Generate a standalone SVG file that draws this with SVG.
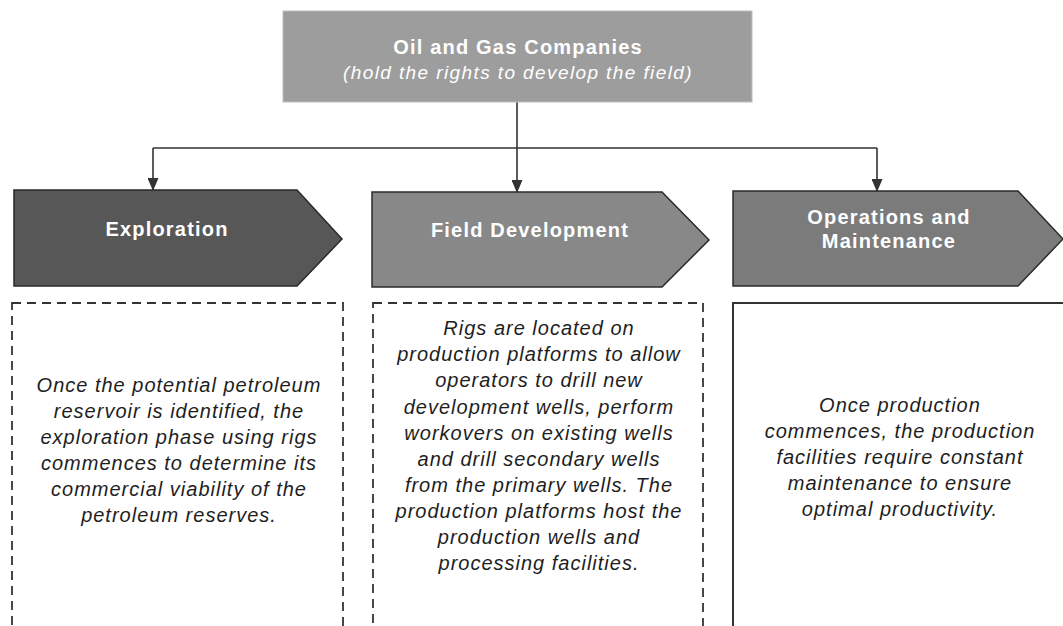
<svg xmlns="http://www.w3.org/2000/svg" width="1063" height="626" viewBox="0 0 1063 626">
<defs>
<marker id="ah" markerWidth="13" markerHeight="11" refX="12" refY="5.5" orient="auto" markerUnits="userSpaceOnUse" viewBox="0 0 13 11">
<path d="M0,0 L13,5.5 L0,11 Z" fill="#333"/>
</marker>
</defs>
<style>
.hd{font-family:"Liberation Sans",Arial,sans-serif;font-weight:bold;font-size:20px;letter-spacing:1.2px;fill:#fff;text-anchor:middle}
.sub{font-family:"Liberation Sans",Arial,sans-serif;font-style:italic;font-size:19px;letter-spacing:1.4px;fill:#fff;text-anchor:middle}
.bd{font-family:"Liberation Sans",Arial,sans-serif;font-style:italic;font-size:20px;letter-spacing:1px;fill:#1e1e1e;text-anchor:middle}
.ln{stroke:#333;stroke-width:1.6;fill:none}
.ar{stroke:#2a2a2a;stroke-width:1.5}
.dash{fill:#fff;stroke:#333;stroke-width:1.8;stroke-dasharray:9 6}
</style>
<rect width="1063" height="626" fill="#fff"/>
<g id="connectors">
<path class="ln" d="M517,102 V148"/>
<path class="ln" d="M153,148 H877"/>
<path class="ln" d="M153,148 V190" marker-end="url(#ah)"/>
<path class="ln" d="M517,148 V192" marker-end="url(#ah)"/>
<path class="ln" d="M877,148 V191" marker-end="url(#ah)"/>
</g>
<g id="companies">
<rect x="283" y="11" width="469" height="91" fill="#9d9d9d" stroke="#bdbdbd" stroke-width="1"/>
<text class="hd" x="518" y="54">Oil and Gas Companies</text>
<text class="sub" x="518" y="79">(hold the rights to develop the field)</text>
</g>
<g id="exploration">
<path class="ar" d="M14,190 H297 L342,239 L297,286 H14 Z" fill="#575757"/>
<text class="hd" x="167" y="236">Exploration</text>
</g>
<g id="field-development">
<path class="ar" d="M372,192 H662 L709,240 L662,287 H372 Z" fill="#888888"/>
<text class="hd" x="530" y="237">Field Development</text>
</g>
<g id="operations">
<path class="ar" d="M733,191 H1018 L1063,239 L1018,286 H733 Z" fill="#7b7b7b"/>
<text class="hd" x="889" y="224">Operations and</text>
<text class="hd" x="889" y="248">Maintenance</text>
</g>
<g id="exploration-desc">
<rect class="dash" x="12" y="303" width="331" height="340"/>
<text class="bd" x="179" y="392">Once the potential petroleum</text>
<text class="bd" x="179" y="418">reservoir is identified, the</text>
<text class="bd" x="179" y="444">exploration phase using rigs</text>
<text class="bd" x="179" y="470">commences to determine its</text>
<text class="bd" x="179" y="496">commercial viability of the</text>
<text class="bd" x="179" y="522">petroleum reserves.</text>
</g>
<g id="field-development-desc">
<rect class="dash" x="373" y="303" width="330" height="340"/>
<text class="bd" x="539" y="335">Rigs are located on</text>
<text class="bd" x="539" y="361">production platforms to allow</text>
<text class="bd" x="539" y="387">operators to drill new</text>
<text class="bd" x="539" y="414">development wells, perform</text>
<text class="bd" x="539" y="440">workovers on existing wells</text>
<text class="bd" x="539" y="466">and drill secondary wells</text>
<text class="bd" x="539" y="492">from the primary wells. The</text>
<text class="bd" x="539" y="518">production platforms host the</text>
<text class="bd" x="539" y="544">production wells and</text>
<text class="bd" x="539" y="570">processing facilities.</text>
</g>
<g id="operations-desc">
<rect x="733" y="303" width="340" height="340" fill="#fff" stroke="#333" stroke-width="2"/>
<text class="bd" x="900" y="412">Once production</text>
<text class="bd" x="900" y="438">commences, the production</text>
<text class="bd" x="900" y="464">facilities require constant</text>
<text class="bd" x="900" y="490">maintenance to ensure</text>
<text class="bd" x="900" y="516">optimal productivity.</text>
</g>
</svg>
